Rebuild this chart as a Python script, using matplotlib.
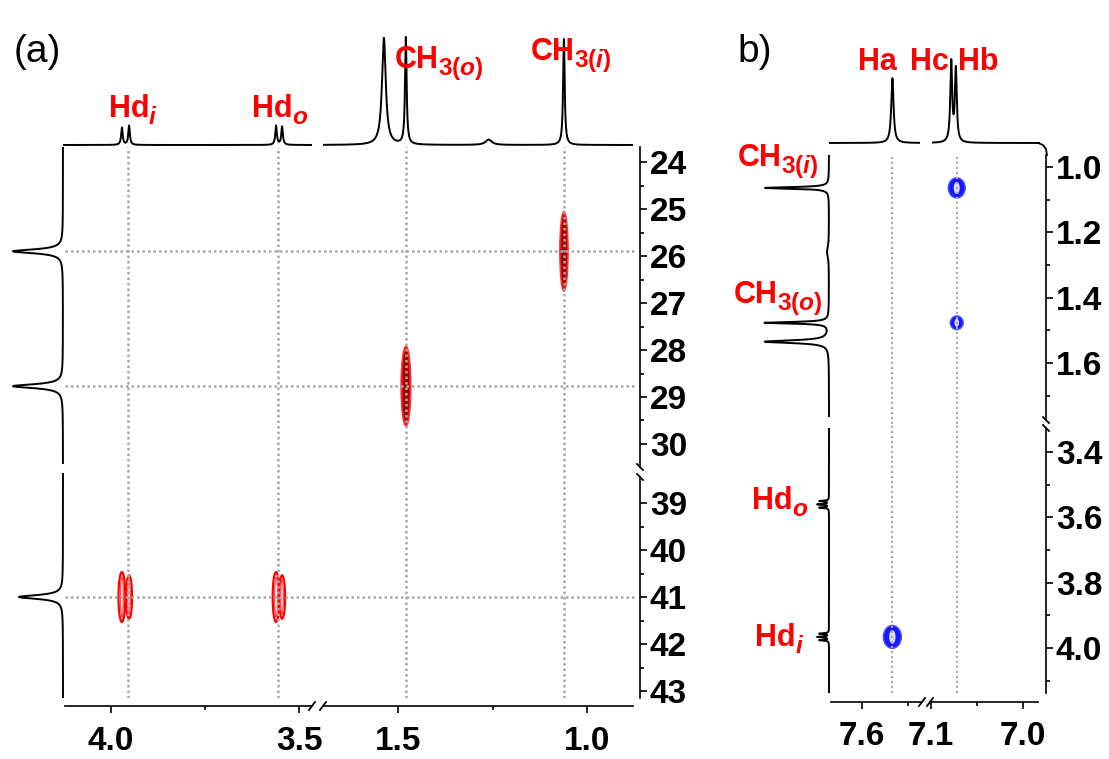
import numpy as np
import matplotlib
matplotlib.use("Agg")
import matplotlib.pyplot as plt
from matplotlib.patches import Ellipse
from matplotlib.lines import Line2D

plt.rcParams['font.family'] = ['Liberation Sans', 'DejaVu Sans']
plt.rcParams['mathtext.fontset'] = 'custom'
plt.rcParams['mathtext.rm'] = 'Liberation Sans:bold'
plt.rcParams['mathtext.it'] = 'Liberation Sans:italic:bold'
plt.rcParams['mathtext.bf'] = 'Liberation Sans:bold'

### panel (a): HSQC, 1H on x, 13C on y
# 1H projection (top): shift, rel. height, half width
a_h_ppm = [3.971, 3.952, 3.561, 3.545, 1.537, 1.479, 1.260, 1.061]
a_h_int = [0.16, 0.18, 0.18, 0.17, 1.00, 1.00, 0.05, 0.99]
a_h_wid = [0.0025, 0.0025, 0.0025, 0.0025, 0.006, 0.0025, 0.010, 0.0025]
# 13C projection (left)
a_c_ppm = [25.9, 28.77, 41.0]
a_c_int = [1.00, 1.00, 0.88]
a_c_wid = [0.05, 0.05, 0.05]
# cross peaks
a_x_h = [1.061, 1.479, 3.971, 3.952, 3.561, 3.545]
a_x_c = [25.9, 28.77, 41.0, 41.0, 41.0, 41.0]
a_x_dh = [0.011, 0.013, 0.009, 0.008, 0.009, 0.008]
a_x_dc = [0.85, 0.85, 0.53, 0.46, 0.53, 0.46]
a_x_filled = [True, True, False, False, False, False]
a_guide_h = [3.955, 3.556, 1.479, 1.061]
a_guide_c = [25.9, 28.77, 41.0]
a_top_labels = [("Hd", "$i$"), ("Hd", "$o$"), ("CH", "$3(o)$"), ("CH", "$3(i)$")]

### panel (b): aromatic 1H on x, aliphatic 1H on y
b_top_ppm = [7.567, 7.078, 7.073]
b_top_int = [0.81, 1.00, 0.91]
b_top_wid = [0.0015, 0.0012, 0.0012]
b_left_ppm = [1.064, 1.260, 1.477, 1.535, 3.550, 3.560, 3.570, 3.956, 3.966, 3.976]
b_left_int = [1.00, 0.03, 1.00, 1.00, 0.15, 0.18, 0.15, 0.15, 0.18, 0.15]
b_left_wid = [0.003, 0.02, 0.003, 0.005, 0.0015, 0.0015, 0.0015, 0.0015, 0.0015, 0.0015]
b_x_h = [7.072, 7.072, 7.567]
b_x_v = [1.064, 1.477, 3.966]
b_x_dh = [0.0092, 0.0070, 0.0098]
b_x_dv = [0.031, 0.021, 0.035]
b_guide = [7.567, 7.072]
b_top_labels = ["Ha", "Hc", "Hb"]
b_left_labels = [("CH", "$3(i)$"), ("CH", "$3(o)$"), ("Hd", "$o$"), ("Hd", "$i$")]

# axis ticks
a_right = [([24, 25, 26, 27, 28, 29, 30], [24.5, 25.5, 26.5, 27.5, 28.5, 29.5]),
           ([39, 40, 41, 42, 43], [39.5, 40.5, 41.5, 42.5])]
a_bottom = [([4.0, 3.5], [3.75], ["4.0", "3.5"]),
            ([1.5, 1.0], [1.25], ["1.5", "1.0"])]
b_right = [([1.0, 1.2, 1.4, 1.6], [1.1, 1.3, 1.5, 1.7], ["1.0", "1.2", "1.4", "1.6"]),
           ([3.4, 3.6, 3.8, 4.0], [3.5, 3.7, 3.9, 4.1], ["3.4", "3.6", "3.8", "4.0"])]
b_bottom = [([7.6], [7.55], ["7.6"]),
            ([7.1, 7.0], [7.05], ["7.1", "7.0"])]

W, H = 1109, 759
fig = plt.figure(figsize=(W / 100, H / 100), dpi=100)
renderer = fig.canvas.get_renderer()
RED = '#ff0000'
GUIDE = dict(color='#a8a8a8', lw=1.8, ls=(0, (1, 1.2)), zorder=3)
TICKSIZE = 24


def box(x0, y0, x1, y1):
    ax = fig.add_axes([x0 / W, 1 - y1 / H, (x1 - x0) / W, (y1 - y0) / H])
    ax.patch.set_alpha(0)
    for s in ax.spines.values():
        s.set_visible(False)
    ax.set_xticks([])
    ax.set_yticks([])
    return ax


def lorentz(grid, ppm, inten, wid):
    y = np.zeros_like(grid)
    for p, h, w in zip(ppm, inten, wid):
        y += h * w ** 2 / ((grid - p) ** 2 + w ** 2)
    return y


def ftext(x, y, s, **kw):
    return fig.text(x / W, 1 - y / H, s, **kw)


def fline(xs, ys, lw=1.3):
    fig.add_artist(Line2D([x / W for x in xs], [1 - y / H for y in ys],
                          color='k', lw=lw, transform=fig.transFigure))


def red_label(x, y, main, sub=None, align='center', size=22):
    # main text plus a larger-than-mathtext subscript
    t1 = ftext(x, y, main, fontsize=size, color=RED, fontweight='bold',
               ha='left', va='baseline')
    w1 = t1.get_window_extent(renderer).width
    w2 = 0
    t2 = None
    if sub:
        t2 = ftext(x, y + 7, sub, fontsize=size * 0.8, color=RED,
                   ha='left', va='baseline')
        w2 = t2.get_window_extent(renderer).width - 1
    total = w1 + w2
    start = x - total / 2 if align == 'center' else x - total
    t1.set_position((start / W, 1 - y / H))
    if t2 is not None:
        t2.set_position(((start + w1 - 1) / W, 1 - (y + 7) / H))


def style_right(ax, major, minor, labels, bounds, out):
    ax.spines['right'].set_visible(True)
    ax.spines['right'].set_bounds(*bounds)
    ax.spines['right'].set_position(('outward', out))
    ax.spines['right'].set_linewidth(1.2)
    ax.yaxis.tick_right()
    ax.set_yticks(major)
    ax.set_yticklabels(labels)
    ax.set_yticks(minor, minor=True)
    ax.tick_params(axis='y', which='major', direction='out', length=5, width=1.2,
                   pad=2, labelsize=TICKSIZE)
    ax.tick_params(axis='y', which='minor', direction='out', length=3, width=1.2)
    for t in ax.get_yticklabels():
        t.set_fontweight('bold')


def style_bottom(ax, major, minor, labels, bounds, out):
    ax.spines['bottom'].set_visible(True)
    ax.spines['bottom'].set_bounds(*bounds)
    ax.spines['bottom'].set_position(('outward', out))
    ax.spines['bottom'].set_linewidth(1.2)
    ax.set_xticks(major)
    ax.set_xticklabels(labels)
    ax.set_xticks(minor, minor=True)
    ax.tick_params(axis='x', which='major', direction='out', length=5, width=1.2,
                   pad=9, labelsize=TICKSIZE)
    ax.tick_params(axis='x', which='minor', direction='out', length=3, width=1.2)
    for t in ax.get_xticklabels():
        t.set_fontweight('bold')


############ panel (a)
cols_a = [(65, 317.5, 4.1223, 3.4508), (317.5, 637, 1.7130, 0.8677)]
rows_a = [(147, 472, 23.68, 30.596), (472, 698, 38.34, 43.149)]
bot_bounds_a = [(4.1223, 3.4654), (1.698, 0.8783)]
right_bounds_a = [(23.68, 30.489), (38.447, 43.149)]

for ci, (x0, x1, l0, l1) in enumerate(cols_a):
    for ri, (y0, y1, t0, t1) in enumerate(rows_a):
        ax = box(x0, y0, x1, y1)
        ax.set_xlim(l0, l1)
        ax.set_ylim(t1, t0)
        for h in a_guide_h:
            if min(l0, l1) < h < max(l0, l1):
                ax.axvline(h, **GUIDE)
        for c in a_guide_c:
            if min(t0, t1) < c < max(t0, t1):
                ax.axhline(c, **GUIDE)
        for xh, xc, dh, dc, filled in zip(a_x_h, a_x_c, a_x_dh, a_x_dc, a_x_filled):
            if filled:
                ax.add_patch(Ellipse((xh, xc), 2 * dh, 2 * dc, fc='#e81010', ec='#ff3030',
                                     lw=1.0, zorder=2))
                ax.add_patch(Ellipse((xh, xc), 1.3 * dh, 1.8 * dc, fc='#a00000', ec='none',
                                     zorder=2))
            else:
                ax.add_patch(Ellipse((xh, xc), 2 * dh, 2 * dc, fc='none', ec=RED,
                                     lw=1.6, zorder=2))
                ax.add_patch(Ellipse((xh, xc), 0.9 * dh, 1.6 * dc, fc='none', ec='#ff5050',
                                     lw=1.0, zorder=2))
        if ri == 1:
            style_bottom(ax, a_bottom[ci][0], a_bottom[ci][1], a_bottom[ci][2],
                         bot_bounds_a[ci], 5.8)
        if ci == 1:
            labs = [str(v) for v in a_right[ri][0]]
            style_right(ax, a_right[ri][0], a_right[ri][1], labs, right_bounds_a[ri], 2.2)

# top 1H projection
for (x0, x1, l0, l1) in [(63, 312, 4.1277, 3.4654), (323, 633, 1.698, 0.8783)]:
    ax = box(x0, 25, x1, 147)
    g = np.linspace(l0, l1, 5000)
    ax.plot(g, lorentz(g, a_h_ppm, a_h_int, a_h_wid), color='k', lw=1.4)
    ax.set_xlim(l0, l1)
    ax.set_ylim(-0.0187, 1.121)

# left 13C projection
for (y0, y1, t0, t1) in [(147, 464, 23.68, 30.426), (473, 698, 38.362, 43.149)]:
    ax = box(3, y0, 65, y1)
    g = np.linspace(t0, t1, 3000)
    ax.plot(lorentz(g, a_c_ppm, a_c_int, a_c_wid), g, color='k', lw=1.4)
    ax.set_xlim(1.2, -0.04)
    ax.set_ylim(t1, t0)

############ panel (b)
cols_b = [(831, 926, 7.6337, 7.5304), (926, 1038, 7.1054, 6.9837)]
rows_b = [(155, 424, 0.9632, 1.7871), (424, 693, 3.3139, 4.1378)]
bot_bounds_b = [(7.6337, 7.5348), (7.1011, 6.9837)]
right_bounds_b = [(0.9632, 1.7749), (3.3262, 4.1378)]

for ci, (x0, x1, l0, l1) in enumerate(cols_b):
    for ri, (y0, y1, t0, t1) in enumerate(rows_b):
        ax = box(x0, y0, x1, y1)
        ax.set_xlim(l0, l1)
        ax.set_ylim(t1, t0)
        for h in b_guide:
            if min(l0, l1) < h < max(l0, l1):
                ax.axvline(h, color='#a8a8a8', lw=1.5, ls=(0, (1, 1.4)), zorder=3)
        for xh, xv, dh, dv in zip(b_x_h, b_x_v, b_x_dh, b_x_dv):
            ax.add_patch(Ellipse((xh, xv), 2 * dh, 2 * dv, fc='#1818ff', ec='#5050ff',
                                 lw=1.0, zorder=2))
            ax.add_patch(Ellipse((xh, xv), 0.7 * dh, 1.2 * dv, fc='white', ec='none',
                                 alpha=0.85, zorder=2))
        if ri == 1:
            style_bottom(ax, b_bottom[ci][0], b_bottom[ci][1], b_bottom[ci][2],
                         bot_bounds_b[ci], 6.5)
        if ci == 1:
            style_right(ax, b_right[ri][0], b_right[ri][1], b_right[ri][2],
                        right_bounds_b[ri], 5.8)

# top 1H projection (aromatic)
for (x0, x1, l0, l1) in [(829, 920, 7.6359, 7.5370), (932, 1040, 7.0989, 6.9815)]:
    ax = box(x0, 40, x1, 145)
    g = np.linspace(l0, l1, 5000)
    ax.plot(g, lorentz(g, b_top_ppm, b_top_int, b_top_wid), color='k', lw=1.4)
    ax.set_xlim(l0, l1)
    ax.set_ylim(-0.025, 1.2875)

# left 1H projection (aliphatic)
for (y0, y1, t0, t1) in [(155, 417, 0.9632, 1.7657), (428, 693, 3.3262, 4.1378)]:
    ax = box(750, y0, 831, y1)
    g = np.linspace(t0, t1, 6000)
    ax.plot(lorentz(g, b_left_ppm, b_left_int, b_left_wid), g, color='k', lw=1.4)
    ax.set_xlim(1.234, -0.031)
    ax.set_ylim(t1, t0)

# axis break marks and corner
for x in (312, 323):
    fline([x - 3, x + 3], [710, 702])
for y in (467, 477):
    fline([637, 643], [y - 3, y + 3])
for x in (922, 930):
    fline([x - 3, x + 3], [706, 698])
for y in (420, 428):
    fline([1043, 1049], [y - 3, y + 3])
fline([1038, 1043, 1046, 1047], [143, 145, 149, 155])

# texts
ftext(37, 52, "(a)", fontsize=28, ha='center', va='center')
ftext(755, 52, "b)", fontsize=28, ha='center', va='center')
for (m, s), (x, y) in zip(a_top_labels, [(133, 117), (280, 117), (439, 68), (571, 60)]):
    red_label(x, y, m, s)
for m, (x, y) in zip(b_top_labels, [(877, 70), (929, 70), (978, 70)]):
    red_label(x, y, m)
for (m, s), (x, y) in zip(b_left_labels, [(818, 166), (822, 303), (808, 509), (804, 646)]):
    red_label(x, y, m, s, align='right')

fig.savefig("out.png", dpi=100)
